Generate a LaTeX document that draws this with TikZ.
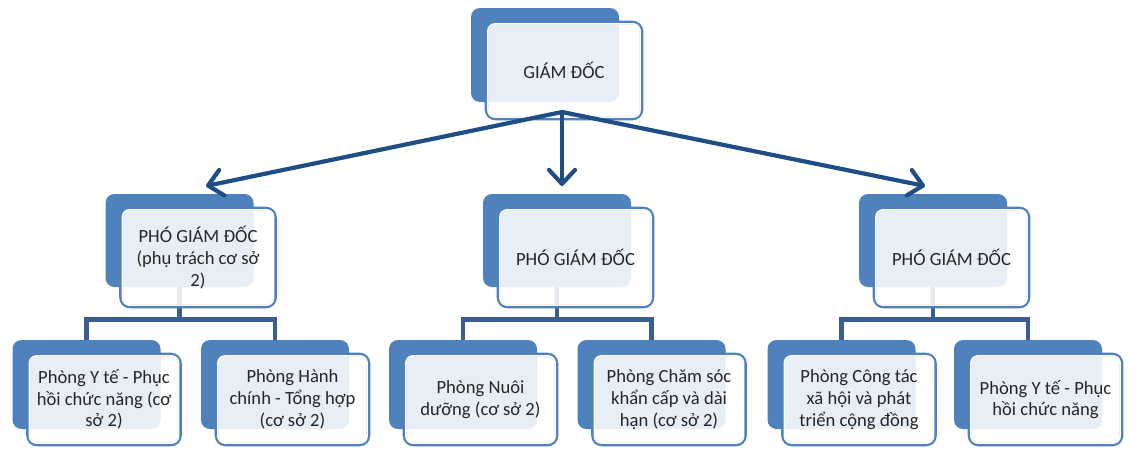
\documentclass[tikz,border=0pt]{standalone}
\usepackage{fontspec}
\setmainfont{Carlito}
\usetikzlibrary{arrows.meta}
\definecolor{boxblue}{HTML}{4F81BD}
\definecolor{arrowblue}{HTML}{1F4E87}
\definecolor{linkblue}{HTML}{3A5F8E}
\definecolor{txtgray}{HTML}{262626}
\tikzset{
  backbox/.style={fill=boxblue, draw=none, rounded corners=9pt, inner sep=0pt, minimum width=148pt},
  frontbox/.style={draw=boxblue, line width=3.6pt, fill=white, fill opacity=0.87, text opacity=1,
    rounded corners=9pt, inner sep=0pt, align=center, text=txtgray,
    font=\fontsize{18.6}{21.7}\selectfont},
  innerring/.style={draw=white, line width=1.6pt, rounded corners=7pt},
  arrowlink/.style={draw=arrowblue, line width=4.2pt, line cap=round,
    -{Straight Barb[length=14pt,width=26pt,round]}},
  bracket/.style={draw=linkblue, line width=4.8pt},
}
\newcommand{\backpart}[4]{\node[backbox, minimum height=#4pt] (#1-back) at (#2,#3) {};}
\newcommand{\frontpart}[6]{%
  \node[frontbox, minimum width=#4pt, minimum height=#5pt] (#1) at (#2,#3) {#6};
  \draw[innerring] ([shift={(3.2,3.2)}]#1.north west) rectangle ([shift={(-3.2,-3.2)}]#1.south east);}
\begin{document}
\begin{tikzpicture}[x=1pt,y=-1pt]
\useasboundingbox (0,0) rectangle (1134,450);
\fill[white] (0,0) rectangle (1134,450);
% back plates
\backpart{top}{545}{55}{94}
\backpart{pgdL}{179.5}{240.5}{93}
\backpart{pgdM}{557}{240.5}{93}
\backpart{pgdR}{933}{240.5}{93}
\backpart{c1}{86.5}{384.5}{89}
\backpart{c2}{275}{384.5}{89}
\backpart{c3}{463}{384.5}{89}
\backpart{c4}{651.5}{384.5}{89}
\backpart{c5}{841.5}{384.5}{89}
\backpart{c6}{1028}{384.5}{89}
% brackets
\draw[bracket] (pgdL-back.south) -- ++(0,32) coordinate (jL);
\draw[bracket] (c1-back.north) |- (jL) -| (c2-back.north);
\draw[bracket] (pgdM-back.south) -- ++(0,32) coordinate (jM);
\draw[bracket] (c3-back.north) |- (jM) -| (c4-back.north);
\draw[bracket] (pgdR-back.south) -- ++(0,32) coordinate (jR);
\draw[bracket] (c5-back.north) |- (jR) -| (c6-back.north);
% front boxes
\frontpart{top}{564}{70.5}{155}{96}{GIÁM ĐỐC}
\frontpart{pgdL}{198}{257.5}{154}{98}{PHÓ GIÁM ĐỐC\\(phụ trách cơ sở\\2)}
\frontpart{pgdM}{575.5}{257.5}{154}{98}{PHÓ GIÁM ĐỐC}
\frontpart{pgdR}{951.5}{257.5}{154}{98}{PHÓ GIÁM ĐỐC}
\frontpart{c1}{104}{399.5}{152}{90}{Phòng Y tế - Phục\\hồi chức năng (cơ\\sở 2)}
\frontpart{c2}{292.5}{399.5}{152}{90}{Phòng Hành\\chính - Tổng hợp\\(cơ sở 2)}
\frontpart{c3}{480.5}{399.5}{152}{90}{Phòng Nuôi\\dưỡng (cơ sở 2)}
\frontpart{c4}{669}{399.5}{152}{90}{Phòng Chăm sóc\\khẩn cấp và dài\\hạn (cơ sở 2)}
\frontpart{c5}{859}{399.5}{152}{90}{Phòng Công tác\\xã hội và phát\\triển cộng đồng}
\frontpart{c6}{1045.5}{399.5}{152}{90}{Phòng Y tế - Phục\\hồi chức năng}
% arrows
\coordinate (hub) at (562,112);
\coordinate (tipL) at (206,186);
\coordinate (tipM) at (562,186);
\coordinate (tipR) at (925,186);
\draw[arrowlink] (hub) -- (tipL);
\draw[arrowlink] (hub) -- (tipM);
\draw[arrowlink] (hub) -- (tipR);
\end{tikzpicture}
\end{document}
